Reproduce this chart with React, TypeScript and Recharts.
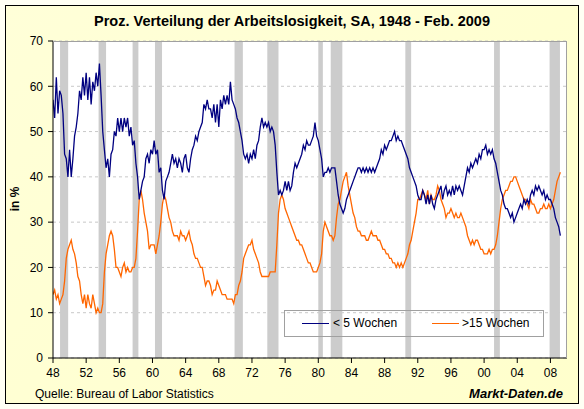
import React from 'react';
import { LineChart, Line, XAxis, YAxis, CartesianGrid, ReferenceArea } from 'recharts';

const FONT = '"Liberation Sans", Arial, sans-serif';

// time axis: first year and number of readings per year
const START_YEAR = 1948;
const POINTS_PER_YEAR = 5;

// Anteil Arbeitslose < 5 Wochen (%), 5 readings per year, 1948 - Feb. 2009
const shortTerm: number[] = [
  57, 53, 62, 54, 59,
  58, 54, 45, 44, 40,
  46, 40, 44, 49, 51,
  54, 59, 57, 62, 58,
  63, 57, 62, 56, 61,
  59, 63, 60, 65, 58,
  50, 46, 42, 44, 40,
  45, 46, 50, 49, 53,
  50, 53, 50, 53, 51,
  53, 49, 51, 47, 48,
  43, 40, 35, 37, 39,
  40, 44, 45, 43, 46,
  45, 48, 45, 46, 41,
  42, 37, 35, 39, 40,
  41, 43, 45, 43, 44,
  42, 44, 43, 41, 44,
  45, 42, 41, 44, 46,
  47, 49, 48, 50, 51,
  52, 56, 55, 57, 55,
  55, 53, 56, 52, 56,
  51, 57, 55, 58, 56,
  58, 56, 61, 57, 56,
  55, 53, 52, 50, 48,
  45, 44, 45, 43, 45,
  44, 46, 44, 47, 48,
  51, 53, 51, 52, 51,
  52, 50, 51, 50, 47,
  41, 36, 37, 36, 37,
  39, 37, 39, 37, 38,
  41, 43, 42, 43, 44,
  45, 47, 46, 48, 47,
  47, 48, 49, 52, 49,
  48, 46, 44, 40, 41,
  41, 42, 41, 42, 42,
  42, 39, 36, 34, 33,
  32, 33, 35, 36, 37,
  38, 39, 40, 41, 42,
  42, 41, 42, 41, 42,
  41, 42, 41, 42, 41,
  42, 43, 44, 46, 45,
  47, 46, 47, 48, 48,
  49, 50, 48, 49, 48,
  48, 47, 46, 45, 44,
  42, 41, 40, 39, 38,
  36, 35, 35, 37, 36,
  34, 36, 34, 36, 34,
  33, 35, 36, 37, 38,
  35, 37, 38, 36, 37,
  36, 38, 36, 38, 37,
  38, 37, 36, 38, 40,
  42, 41, 43, 42, 43,
  44, 43, 45, 44, 46,
  46, 47, 45, 46, 45,
  46, 44, 43, 41, 39,
  37, 36, 34, 33, 33,
  32, 31, 32, 30, 31,
  32, 33, 34, 33, 35,
  34, 35, 34, 36, 37,
  36, 38, 37, 38, 37,
  36, 37, 35, 36, 35,
  35, 34, 33, 31, 30,
  29, 27,
];

// Anteil Arbeitslose > 15 Wochen (%)
const longTerm: number[] = [
  14, 15, 13, 14, 12,
  13, 14, 17, 22, 24,
  25, 26, 24, 23, 21,
  18, 17, 14, 12, 14,
  11, 14, 12, 11, 14,
  12, 10, 11, 10, 10,
  12, 19, 23, 25, 27,
  28, 27, 24, 20, 20,
  19, 18, 20, 21, 19,
  20, 19, 19, 20, 20,
  22, 28, 35, 37, 35,
  32, 30, 28, 24, 25,
  25, 25, 23, 25, 27,
  30, 34, 36, 35, 33,
  31, 30, 28, 27, 27,
  27, 26, 28, 27, 27,
  26, 27, 28, 26, 25,
  23, 22, 22, 21, 20,
  20, 18, 16, 17, 17,
  16, 14, 15, 15, 17,
  16, 15, 14, 14, 14,
  13, 13, 13, 13, 12,
  14, 14, 16, 17, 19,
  22, 23, 24, 25, 25,
  26, 24, 23, 22, 21,
  19, 18, 18, 18, 18,
  18, 19, 19, 19, 19,
  25, 32, 35, 36, 35,
  33, 32, 31, 30, 29,
  28, 27, 26, 26, 25,
  25, 24, 23, 22, 21,
  21, 20, 19, 19, 19,
  20, 21, 23, 28, 30,
  29, 28, 27, 27, 26,
  27, 31, 34, 35, 37,
  39, 40, 41, 38, 36,
  34, 32, 31, 29, 28,
  28, 27, 27, 27, 26,
  26, 27, 28, 27, 27,
  27, 26, 26, 25, 24,
  24, 23, 23, 22, 22,
  21, 21, 20, 21, 20,
  21, 20, 21, 22, 23,
  25, 26, 28, 30, 32,
  35, 35, 36, 37, 36,
  35, 37, 34, 36, 35,
  35, 36, 38, 37, 35,
  34, 33, 31, 32, 32,
  33, 32, 31, 32, 31,
  31, 32, 31, 30, 29,
  27, 26, 25, 26, 25,
  26, 26, 25, 24, 24,
  23, 23, 23, 24, 23,
  24, 24, 25, 27, 30,
  33, 35, 36, 37, 37,
  38, 39, 39, 40, 40,
  39, 38, 37, 36, 35,
  35, 34, 33, 35, 34,
  34, 33, 32, 32, 33,
  33, 34, 33, 33, 34,
  33, 34, 35, 37, 39,
  40, 41,
];

// US recessions (NBER), as fractional years
const recessionStart = [1948.85, 1953.5, 1957.6, 1960.3, 1969.9, 1973.85, 1980.0, 1981.5, 1990.5, 2001.2, 2007.9];
const recessionEnd = [1949.83, 1954.4, 1958.3, 1961.15, 1970.9, 1975.2, 1980.55, 1982.9, 1991.2, 2001.9, 2009.15];

const xTicks = [1948, 1952, 1956, 1960, 1964, 1968, 1972, 1976, 1980, 1984, 1988, 1992, 1996, 2000, 2004, 2008];
const xTickLabels = ['48', '52', '56', '60', '64', '68', '72', '76', '80', '84', '88', '92', '96', '00', '04', '08'];
const yTicks = [0, 10, 20, 30, 40, 50, 60, 70];

const seriesNames = ['< 5 Wochen', '>15 Wochen'];
const seriesColors = ['#000080', '#FF6600'];

const data = shortTerm.map((v, i) => ({
  t: START_YEAR + i / POINTS_PER_YEAR,
  short: v,
  long: longTerm[i],
}));

export default function App() {
  return (
    <div style={{ position: 'absolute', left: 0, top: 0, width: 584, height: 409, background: '#FFFFF4', fontFamily: FONT, overflow: 'hidden' }}>
      <div
        style={{
          position: 'absolute', left: 5, top: 5, width: 572, height: 397,
          border: '1px solid #000',
          background: 'linear-gradient(135deg, #FFFFD8 0%, #FFFFCC 100%)',
        }}
      />
      <div style={{ position: 'absolute', left: 0, top: 13, width: 584, textAlign: 'center', fontSize: 14.5, fontWeight: 'bold', color: '#000' }}>
        Proz. Verteilung der Arbeitslosigkeit, SA, 1948 - Feb. 2009
      </div>
      <div style={{ position: 'absolute', left: 0, top: 0 }}>
        <LineChart width={584} height={409} data={data} margin={{ top: 41, right: 17, bottom: 21, left: 0 }}>
          <CartesianGrid vertical={false} fill="#FFFFFF" stroke="#C8C8C8" strokeDasharray="3 3" />
          {recessionStart.map((s, i) => (
            <ReferenceArea key={i} x1={s} x2={recessionEnd[i]} y1={0} y2={70} fill="#CCCCCC" fillOpacity={1} stroke="none" ifOverflow="hidden" />
          ))}
          <XAxis
            dataKey="t"
            type="number"
            domain={[1948, 2010]}
            ticks={xTicks}
            tickFormatter={(v) => xTickLabels[xTicks.indexOf(v)]}
            height={30}
            stroke="#000"
            tickSize={5}
            tickMargin={5}
            tick={{ fill: '#000', fontSize: 12, fontFamily: FONT }}
            allowDataOverflow
          />
          <YAxis
            type="number"
            domain={[0, 70]}
            ticks={yTicks}
            width={53}
            stroke="#000"
            tickSize={5}
            tickMargin={5}
            tick={{ fill: '#000', fontSize: 12, fontFamily: FONT }}
            allowDataOverflow
          />
          <Line type="linear" dataKey="long" stroke={seriesColors[1]} strokeWidth={1.3} dot={false} isAnimationActive={false} />
          <Line type="linear" dataKey="short" stroke={seriesColors[0]} strokeWidth={1.3} dot={false} isAnimationActive={false} />
        </LineChart>
      </div>
      {/* plot frame top/right */}
      <div style={{ position: 'absolute', left: 53, top: 41, width: 514, height: 317, boxSizing: 'border-box', borderTop: '1px solid #A0A0A0', borderRight: '1px solid #A0A0A0', pointerEvents: 'none' }} />
      {/* legend */}
      <div style={{ position: 'absolute', left: 284, top: 310, width: 260, height: 27, boxSizing: 'border-box', border: '1px solid #A0A0A0', fontSize: 12, color: '#000' }}>
        <div style={{ position: 'absolute', left: 17, top: 12, width: 27, height: 0, borderTop: `1px solid ${seriesColors[0]}` }} />
        <div style={{ position: 'absolute', left: 48, top: 5 }}>{seriesNames[0]}</div>
        <div style={{ position: 'absolute', left: 147, top: 12, width: 27, height: 0, borderTop: `1px solid ${seriesColors[1]}` }} />
        <div style={{ position: 'absolute', left: 177, top: 5 }}>{seriesNames[1]}</div>
      </div>
      {/* y label */}
      <div style={{ position: 'absolute', left: -5, top: 192, width: 40, textAlign: 'center', fontSize: 12, fontWeight: 'bold', transform: 'rotate(-90deg)' }}>
        in %
      </div>
      <div style={{ position: 'absolute', left: 35, top: 387, fontSize: 12, color: '#000' }}>Quelle: Bureau of Labor Statistics</div>
      <div style={{ position: 'absolute', right: 21, top: 386, fontSize: 13, fontWeight: 'bold', fontStyle: 'italic', color: '#000' }}>Markt-Daten.de</div>
    </div>
  );
}
